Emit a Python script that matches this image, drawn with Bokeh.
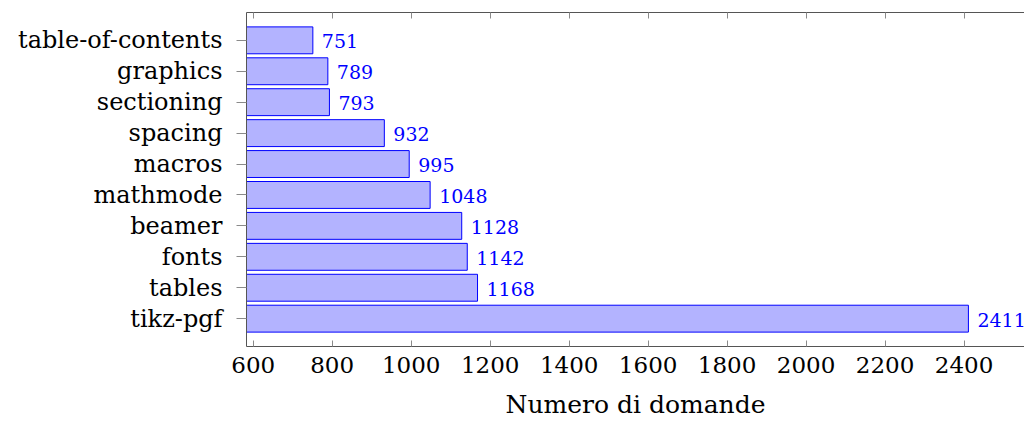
from bokeh.plotting import figure
from bokeh.models import LinearAxis, Range1d, FactorRange, FixedTicker, ColumnDataSource, CategoricalAxis
from bokeh.core.properties import value
from bokeh.embed import file_html
from bokeh.resources import INLINE

categories = ["tikz-pgf", "tables", "fonts", "beamer", "mathmode", "macros",
              "spacing", "sectioning", "graphics", "table-of-contents"]
counts = [2411, 1168, 1142, 1128, 1048, 995, 932, 793, 789, 751]
x_ticks = [600, 800, 1000, 1200, 1400, 1600, 1800, 2000, 2200, 2400]
x_label = "Numero di domande"

FONT = "DejaVu Serif"
AXC = "#555555"
TKC = "#8a8a8a"

src = ColumnDataSource(dict(cat=categories, n=counts, lab=[str(c) for c in counts]))

yr = FactorRange(*categories, range_padding=0.4, range_padding_units="absolute")
p = figure(frame_width=778, frame_height=334, min_border_left=246, min_border_right=0,
           min_border_top=12, min_border_bottom=75,
           y_range=yr, x_range=Range1d(583, 2553),
           output_backend="svg", toolbar_location=None, x_axis_location=None, y_axis_location=None)
p.outline_line_color = None
p.grid.visible = False
p.background_fill_color = None
p.border_fill_color = None

p.hbar(y="cat", right="n", left=0, height=0.87, source=src,
       fill_color="#b3b3ff", line_color="#0000ff", line_width=1)
p.text(x="n", y="cat", text="lab", source=src, x_offset=9, y_offset=1,
       text_baseline="middle", text_align="left", text_color="#0000ff",
       text_font=value(FONT), text_font_size="19px")

# bottom axis
xb = LinearAxis(ticker=FixedTicker(ticks=x_ticks), axis_label=x_label)
xb.axis_line_color = AXC
xb.major_tick_line_color = TKC
xb.major_tick_in = 6
xb.major_tick_out = 0
xb.minor_tick_line_color = None
xb.major_label_standoff = 10
xb.major_label_text_font = FONT
xb.major_label_text_font_size = "23px"
xb.major_label_text_color = "black"
xb.axis_label_text_font = FONT
xb.axis_label_text_font_size = "25px"
xb.axis_label_text_font_style = "normal"
xb.axis_label_text_color = "black"
xb.axis_label_standoff = 14
p.add_layout(xb, "below")

# top axis (ticks only)
xt = LinearAxis(ticker=FixedTicker(ticks=x_ticks))
xt.axis_line_color = AXC
xt.major_tick_line_color = TKC
xt.major_tick_in = 6
xt.major_tick_out = 0
xt.minor_tick_line_color = None
xt.major_label_text_font_size = "0px"
xt.major_label_standoff = 0
p.add_layout(xt, "above")

# left axis
yl = CategoricalAxis()
yl.axis_line_color = AXC
yl.major_tick_line_color = TKC
yl.major_tick_in = 0
yl.major_tick_out = 10
yl.major_label_standoff = 14
yl.major_label_text_font = FONT
yl.major_label_text_font_size = "24px"
yl.major_label_text_color = "black"
p.add_layout(yl, "left")

open("out.html", "w").write(file_html(p, INLINE))
